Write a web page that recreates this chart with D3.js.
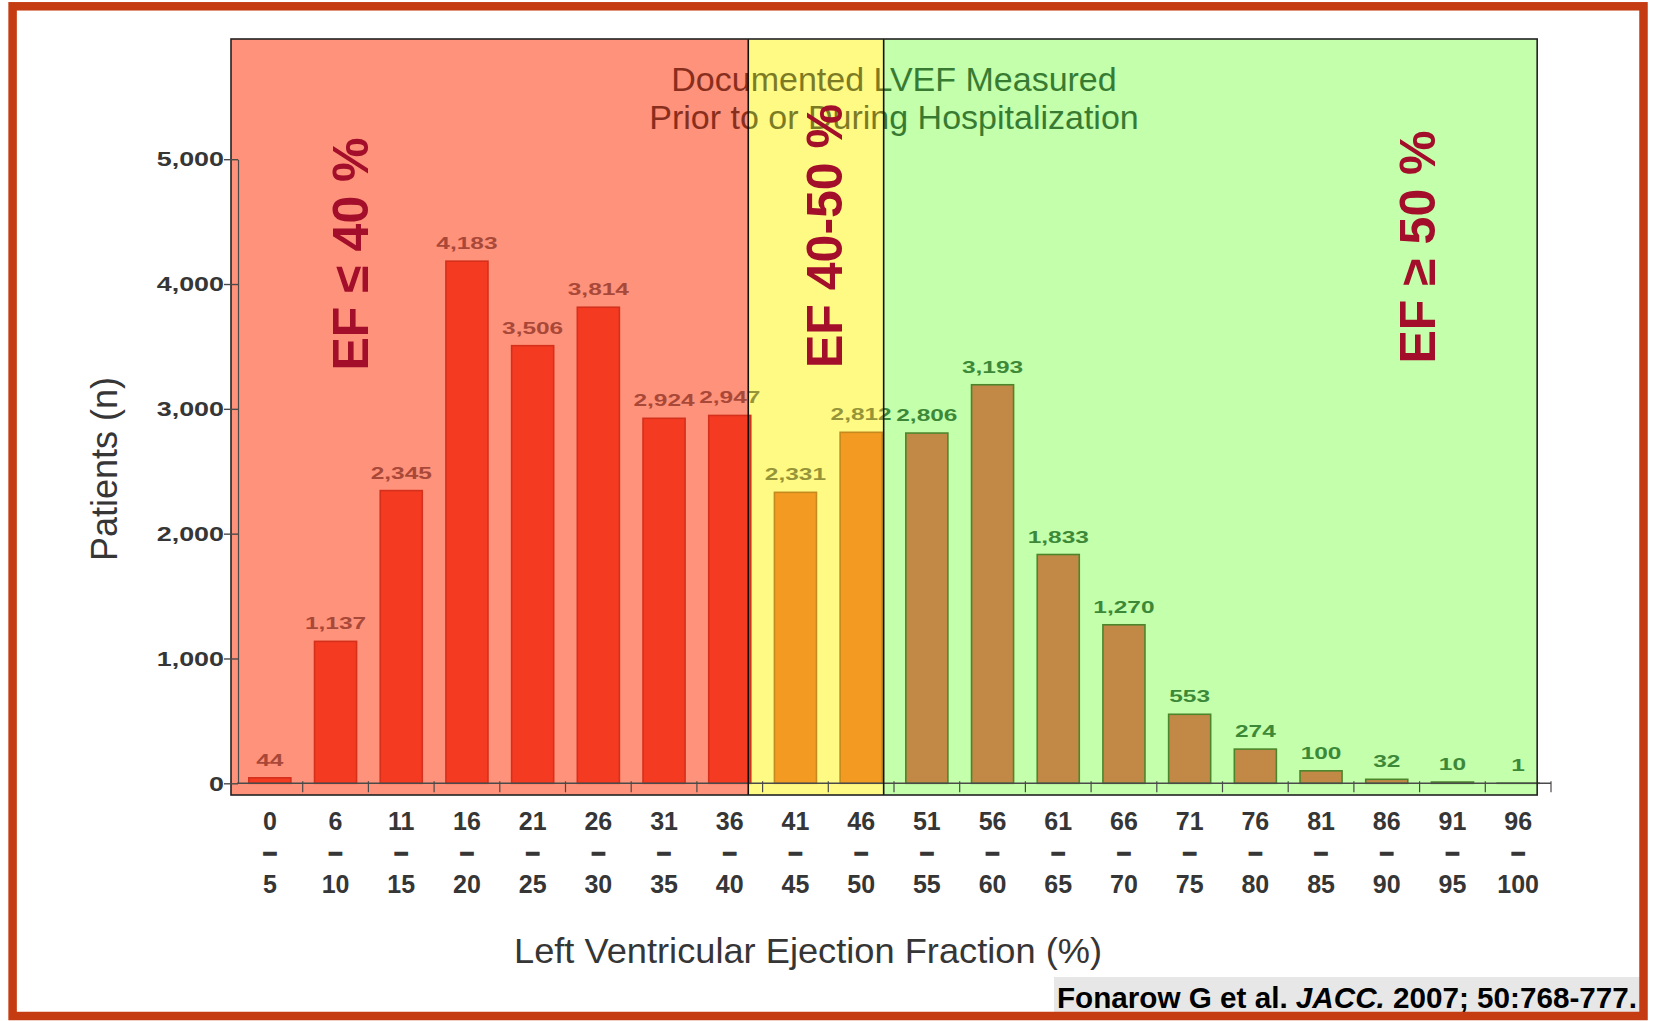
<!DOCTYPE html>
<html>
<head>
<meta charset="utf-8">
<script src="https://cdn.jsdelivr.net/npm/d3@7"></script>
<style>
  html, body { margin: 0; padding: 0; background: #fff; }
  svg { display: block; font-family: "Liberation Sans", Arial, Helvetica, sans-serif; }
</style>
</head>
<body>
<svg id="chart" width="1653" height="1021"></svg>
<script>
// ---- data ----
const binStarts = [0, 6, 11, 16, 21, 26, 31, 36, 41, 46, 51, 56, 61, 66, 71, 76, 81, 86, 91, 96];
const binEnds   = [5, 10, 15, 20, 25, 30, 35, 40, 45, 50, 55, 60, 65, 70, 75, 80, 85, 90, 95, 100];
const patients  = [44, 1137, 2345, 4183, 3506, 3814, 2924, 2947, 2331, 2812,
                   2806, 3193, 1833, 1270, 553, 274, 100, 32, 10, 1];
const yTicks = [0, 1000, 2000, 3000, 4000, 5000];
const zoneLabels = ["EF \u2264 40 %", "EF 40-50 %", "EF \u2265 50 %"];
const zoneUpper = [40, 50, 100];
const titleLines = ["Documented LVEF Measured", "Prior to or During Hospitalization"];
const xTitle = "Left Ventricular Ejection Fraction (%)";
const yTitle = "Patients (n)";

// ---- styles ----
const zoneStyle = [
  { bg: "#ff927a", bar: "#f43b22", edge: "#d5301c", title: "#872e1e", label: "#a84838" },
  { bg: "#fffa84", bar: "#f29a22", edge: "#c48a1e", title: "#7c7a24", label: "#969438" },
  { bg: "#c4ffab", bar: "#c28846", edge: "#4c862c", title: "#387a32", label: "#3d8838" }
];
const inkColor = "#363636";
const zoneLabelColor = "#a30f2a";

// ---- layout ----
const W = 1653, H = 1021;
const svg = d3.select("#chart");

const categories = binStarts.map((s, i) => s + "-" + binEnds[i]);
const x = d3.scaleBand().domain(categories).range([237, 1551])
  .paddingInner(0.36).paddingOuter(0.18);
const y = d3.scaleLinear().domain([0, 5000]).range([783.3, 159.2]);

const bw = x.bandwidth();
const zoneOf = i => zoneUpper.findIndex(u => binEnds[i] <= u);

const boxLeft = x.range()[0] - 6, boxTop = 39, boxBottom = 795;
const zoneEdgeShift = [-2.5, 1.5, -2];
const zones = zoneUpper.map((u, k) => {
  const lastIdx = d3.max(d3.range(categories.length).filter(i => zoneOf(i) === k));
  return { right: x(categories[lastIdx]) + bw + zoneEdgeShift[k] };
});
zones.forEach((z, k) => { z.left = k === 0 ? boxLeft : zones[k - 1].right; });
const boxRight = zones[zones.length - 1].right;

// hard-stop gradients so text crossing a zone edge takes each zone's tint
const defs = svg.append("defs");
function zoneGradient(id, key) {
  const g = defs.append("linearGradient").attr("id", id)
    .attr("gradientUnits", "userSpaceOnUse")
    .attr("x1", 0).attr("x2", W).attr("y1", 0).attr("y2", 0);
  zones.forEach((z, k) => {
    g.append("stop").attr("offset", z.left / W).attr("stop-color", zoneStyle[k][key]);
    g.append("stop").attr("offset", z.right / W).attr("stop-color", zoneStyle[k][key]);
  });
}
zoneGradient("titleInk", "title");
zoneGradient("labelInk", "label");

// page background
svg.append("rect").attr("width", W).attr("height", H).attr("fill", "#fff");

// zone backgrounds
svg.append("g").selectAll("rect").data(zones).join("rect")
  .attr("x", d => d.left).attr("y", boxTop)
  .attr("width", d => d.right - d.left).attr("height", boxBottom - boxTop)
  .attr("fill", (d, k) => zoneStyle[k].bg);

// title
const title = svg.append("text")
  .attr("text-anchor", "middle").attr("font-size", 34).attr("fill", "url(#titleInk)");
titleLines.forEach((t, i) => {
  title.append("tspan").attr("x", 894).attr("y", 91 + i * 38).text(t);
});

// zone labels
const zoneLabelPos = [[368, 254], [842, 236], [1435, 247]];
svg.append("g").selectAll("text").data(zoneLabels).join("text")
  .attr("transform", (d, k) => `translate(${zoneLabelPos[k][0]},${zoneLabelPos[k][1]}) rotate(-90)`)
  .attr("text-anchor", "middle")
  .attr("font-size", 50).attr("font-weight", "bold")
  .attr("fill", zoneLabelColor)
  .text(d => d);

// bars
svg.append("g").selectAll("rect").data(patients).join("rect")
  .attr("x", (d, i) => x(categories[i]))
  .attr("y", d => y(d))
  .attr("width", bw)
  .attr("height", d => y(0) - y(d))
  .attr("fill", (d, i) => zoneStyle[zoneOf(i)].bar)
  .attr("stroke", (d, i) => zoneStyle[zoneOf(i)].edge)
  .attr("stroke-width", 1.6);

// value labels above bars (wide lettering)
svg.append("g").selectAll("text").data(patients).join("text")
  .attr("x", (d, i) => x(categories[i]) + bw / 2)
  .attr("y", d => y(d) - 12)
  .attr("text-anchor", "middle")
  .attr("font-size", 16.5).attr("font-weight", "bold")
  .attr("fill", "url(#labelInk)")
  .text(d => d3.format(",")(d))
  .each(function () {
    const len = this.getComputedTextLength();
    d3.select(this).attr("textLength", len * 1.48).attr("lengthAdjust", "spacingAndGlyphs");
  });

// zero baseline with ticks at bin boundaries
const axisColor = "#4a4a4a";
const base = svg.append("g").attr("transform", `translate(0,${y(0)})`);
base.append("line").attr("x1", x.range()[0]).attr("x2", x.range()[1])
  .attr("stroke", axisColor).attr("stroke-width", 1.4);
const gap = x.step() * x.paddingInner() / 2;
const edges = categories.slice(1).map(c => x(c) - gap).concat([x.range()[1]]);
base.selectAll("line.edge").data(edges).join("line").attr("class", "edge")
  .attr("x1", d => d).attr("x2", d => d).attr("y1", -2).attr("y2", 9)
  .attr("stroke", axisColor).attr("stroke-width", 1.2);

// zone dividers and plot frame
svg.append("g").selectAll("line").data(zones.slice(0, -1)).join("line")
  .attr("x1", d => d.right).attr("x2", d => d.right)
  .attr("y1", boxTop).attr("y2", boxBottom)
  .attr("stroke", "#111").attr("stroke-width", 1.6);
svg.append("rect").attr("x", boxLeft).attr("y", boxTop)
  .attr("width", boxRight - boxLeft).attr("height", boxBottom - boxTop)
  .attr("fill", "none").attr("stroke", "#222").attr("stroke-width", 1.6);

// y axis
const yAxis = svg.append("g").attr("transform", `translate(${x.range()[0] + 1},0)`)
  .call(d3.axisLeft(y).tickValues(yTicks).tickSize(14).tickSizeOuter(0)
    .tickPadding(0).tickFormat(d3.format(",")));
yAxis.select(".domain").attr("stroke", axisColor).attr("stroke-width", 1.2);
yAxis.selectAll(".tick line").attr("stroke", axisColor).attr("stroke-width", 1.4);
yAxis.selectAll(".tick text")
  .attr("font-family", "'Liberation Sans', Arial, sans-serif")
  .attr("font-size", 21).attr("font-weight", "bold").attr("fill", inkColor)
  .each(function () {
    const len = this.getComputedTextLength();
    d3.select(this).attr("textLength", len * 1.28).attr("lengthAdjust", "spacingAndGlyphs");
  });

// x axis: bin ranges in three rows (start, dash, end)
const xAxis = svg.append("g").attr("transform", `translate(0,${y(0)})`)
  .call(d3.axisBottom(x).tickSize(0).tickPadding(0));
xAxis.select(".domain").remove();
xAxis.selectAll(".tick text").each(function (d, i) {
  const t = d3.select(this).attr("y", null).attr("dy", null).text(null)
    .attr("font-family", "'Liberation Sans', Arial, sans-serif")
    .attr("font-size", 25).attr("font-weight", "bold").attr("fill", inkColor);
  t.append("tspan").attr("x", 0).attr("y", 47).text(binStarts[i]);
  t.append("tspan").attr("x", 0).attr("y", 78)
    .attr("stroke", inkColor).attr("stroke-width", 1.3).text("\u2013");
  t.append("tspan").attr("x", 0).attr("y", 110).text(binEnds[i]);
});

// axis titles
svg.append("text").attr("x", 808).attr("y", 963)
  .attr("text-anchor", "middle").attr("font-size", 35).attr("fill", inkColor)
  .attr("textLength", 588).attr("lengthAdjust", "spacingAndGlyphs")
  .text(xTitle);
svg.append("text").attr("transform", "translate(117,469) rotate(-90)")
  .attr("text-anchor", "middle").attr("font-size", 36).attr("fill", inkColor)
  .text(yTitle);

// citation strip
svg.append("rect").attr("x", 1054).attr("y", 977).attr("width", 586).attr("height", 36)
  .attr("fill", "#e7e7e7");
const cite = svg.append("text").attr("x", 1057).attr("y", 1008)
  .attr("font-size", 30).attr("font-weight", "bold").attr("fill", "#000");
cite.append("tspan").text("Fonarow G et al. ");
cite.append("tspan").attr("font-style", "italic").text("JACC.");
cite.append("tspan").text(" 2007; 50:768-777.");
cite.attr("textLength", 580).attr("lengthAdjust", "spacingAndGlyphs");

// outer frame
svg.append("rect").attr("x", 12.6).attr("y", 6.3).attr("width", 1630.9).attr("height", 1009.7)
  .attr("fill", "none").attr("stroke", "#c63c12").attr("stroke-width", 8.5);
</script>
</body>
</html>
